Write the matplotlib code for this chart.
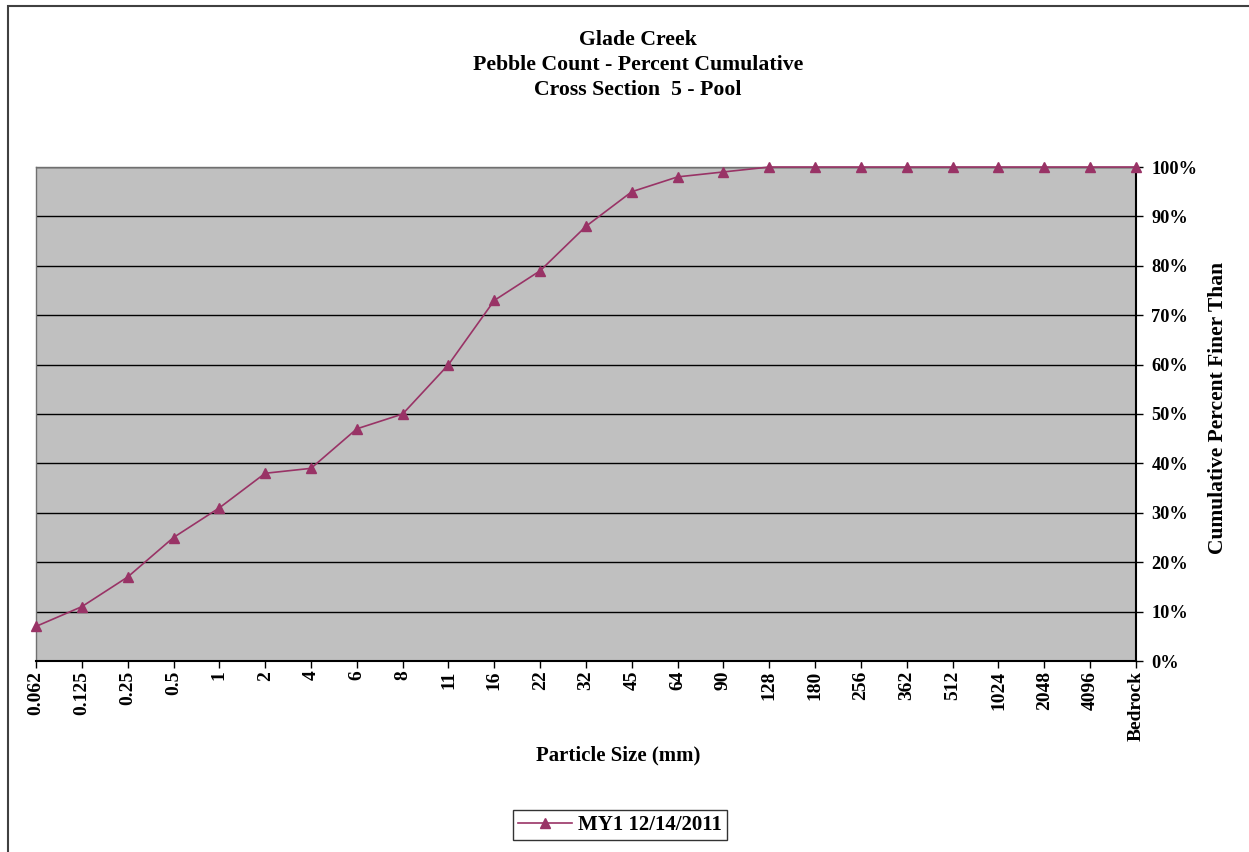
import matplotlib.pyplot as plt
from matplotlib.patches import Rectangle
from matplotlib.ticker import PercentFormatter

plt.rcParams['font.family'] = ['Liberation Serif', 'DejaVu Serif']
plt.rcParams['font.weight'] = 'bold'

sizes = ["0.062", "0.125", "0.25", "0.5", "1", "2", "4", "6", "8", "11", "16",
         "22", "32", "45", "64", "90", "128", "180", "256", "362", "512",
         "1024", "2048", "4096", "Bedrock"]
pct_finer = [7, 11, 17, 25, 31, 38, 39, 47, 50, 60, 73, 79, 88, 95, 98, 99,
             100, 100, 100, 100, 100, 100, 100, 100, 100]
series_name = "MY1 12/14/2011"

W, H = 1249, 852
fig = plt.figure(figsize=(W / 100, H / 100), dpi=100)

# outer chart frame (runs off the right and bottom edges)
fig.patches.append(Rectangle((8 / W, -0.1), 1.2, 1 - 6 / H + 0.1,
                             transform=fig.transFigure, fill=False,
                             edgecolor='#404040', linewidth=1.5))

ax = fig.add_axes([36 / W, 1 - 661 / H, 1100 / W, 494 / H])
ax.set_facecolor('#C0C0C0')

x = list(range(len(sizes)))
ax.plot(x, pct_finer, color='#993366', marker='^', markersize=6.5,
        linewidth=1.2, label=series_name, clip_on=False, zorder=3)

ax.set_xlim(0, len(sizes) - 1)
ax.set_ylim(0, 100)
ax.set_xticks(x)
ax.set_xticklabels(sizes, rotation=90, fontsize=14, fontweight='bold')
ax.set_yticks(range(0, 101, 10))
ax.yaxis.set_major_formatter(PercentFormatter(decimals=0))
ax.yaxis.tick_right()
ax.yaxis.set_label_position('right')
for lab in ax.get_yticklabels():
    lab.set_fontsize(13.2)
    lab.set_fontweight('bold')
ax.tick_params(axis='both', length=5, width=1, direction='out', color='black')
ax.tick_params(axis='x', pad=2)
ax.tick_params(axis='y', pad=6)

ax.grid(axis='y', color='black', linewidth=1)
ax.set_axisbelow(True)
for side in ['top', 'left']:
    ax.spines[side].set_color('#707070')
    ax.spines[side].set_linewidth(1)
ax.spines['right'].set_linewidth(1.5)
ax.spines['bottom'].set_linewidth(1.5)

ax.set_xlabel("Particle Size (mm)", fontsize=15, fontweight='bold', va='center')
ax.xaxis.set_label_coords((618 - 36) / 1100, (661 - 755) / 494)
ax.set_ylabel("Cumulative Percent Finer Than", fontsize=15.5, fontweight='bold',
              va='center')
ax.yaxis.set_label_coords((1218 - 36) / 1100, (661 - 408) / 494)

fig.text(638 / W, 1 - 65 / H,
         "Glade Creek\nPebble Count - Percent Cumulative\nCross Section  5 - Pool",
         ha='center', va='center', fontsize=15.7, fontweight='bold',
         linespacing=1.36)

leg = ax.legend(loc='center', bbox_to_anchor=(620 / W, 1 - 825 / H),
                bbox_transform=fig.transFigure, frameon=True, fancybox=False,
                edgecolor='black', fontsize=15, handlelength=2.6,
                borderpad=0.25, handletextpad=0.3)
leg.get_frame().set_linewidth(1)
for t in leg.get_texts():
    t.set_fontweight('bold')

fig.savefig('out.png', dpi=100)
